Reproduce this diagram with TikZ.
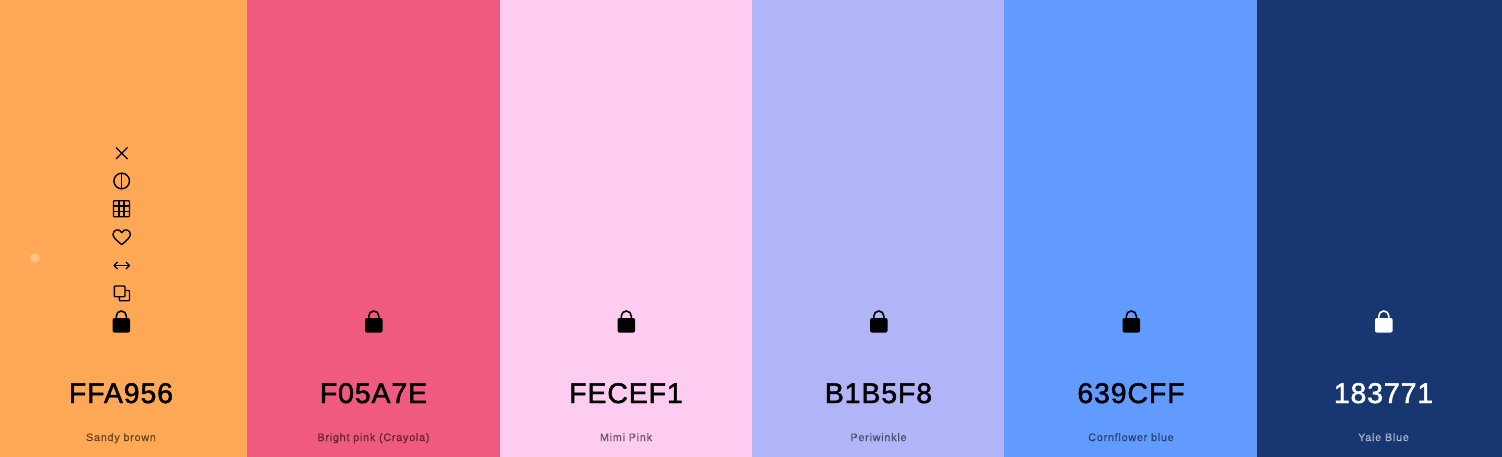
\documentclass[tikz,border=0pt]{standalone}
\usepackage{fontspec}
\setmainfont{Liberation Sans}
\newfontfamily\hexfont[LetterSpace=3,FakeBold=1.6]{Liberation Sans}
\newfontfamily\namefont[LetterSpace=7,FakeBold=0.8]{Liberation Sans}
\usetikzlibrary{positioning}

\definecolor{sandy}{HTML}{FFA956}
\definecolor{bright}{HTML}{F05A7E}
\definecolor{mimi}{HTML}{FDCCF0}
\definecolor{peri}{HTML}{B1B5F8}
\definecolor{corn}{HTML}{619BFF}
\definecolor{yale}{HTML}{183771}

\tikzset{
	hexlabel/.style={font=\hexfont\fontsize{28.5}{30}\selectfont, inner sep=0pt, anchor=base},
	namelabel/.style={font=\namefont\fontsize{10.8}{12}\selectfont, inner sep=0pt, anchor=base},
	iconline/.style={draw=black, line width=1.4pt},
	pics/lock/.style={code={
		\fill[#1, rounded corners=2pt] (-8.8,-4) rectangle (8.8,10.6);
		\draw[#1, line width=1.6pt] (-5,-3.5) -- (-5,-6) arc[start angle=180, end angle=360, radius=5] -- (5,-3.5);
	}}
}

\begin{document}
\begin{tikzpicture}[x=1pt, y=-1pt]
	\useasboundingbox (0,0) rectangle (1502,457);

	%% The stripes, left edge / right edge / colour
	\foreach [count=\n] \a/\b/\c in {0/247/sandy, 247/499.5/bright, 499.5/752/mimi, 752/1004/peri, 1004/1257/corn, 1257/1502/yale}{%
		\fill[\c] (\a,0) rectangle (\b,457);
	}

	%% Iterate through the black texts and locks
	\foreach [count=\n] \x/\h/\t in {121/FFA956/Sandy brown, 373.5/F05A7E/Bright pink (Crayola), 626/FECEF1/Mimi Pink, 878.5/B1B5F8/Periwinkle, 1131/639CFF/Cornflower blue}{%
		\pic at (\x+.3,322) {lock=black};
		\node[hexlabel, text=black] at (\x,403) (hex-\n) {\h};
		\node[namelabel, text=black, text opacity=.5] at (\x,441) (name-\n) {\t};
	}

	%% The white column
	\pic at (1383.8,322) {lock=white};
	\node[hexlabel, text=white] at (1383.5,403) (hex-6) {183771};
	\node[namelabel, text=white, text opacity=.55] at (1383.5,441) (name-6) {Yale Blue};

	%% The small dot
	\fill[white, opacity=.3] (34.5,258) circle (4.8);

	%% Tools above the first lock
	\begin{scope}[iconline]
		%% cross
		\draw (116,147.5) -- (127.5,159) (127.5,147.5) -- (116,159);
		%% split circle
		\draw (121.7,181) circle (7.8);
		\draw (121.7,173.2) -- (121.7,188.8);
		%% grid
		\draw[rounded corners=.8pt] (113.5,200.8) rectangle (129.5,216.8);
		\foreach \n in {1,2}{%
			\draw (113.5+\n*16/3,200.8) -- (113.5+\n*16/3,216.8);
			\draw (113.5,200.8+\n*16/3) -- (129.5,200.8+\n*16/3);
		}
		%% heart
		\draw[line join=round] (121.7,244.6) .. controls (116,240) and (113,237) .. (113,234.5) .. controls (113,229.5) and (119.5,228) .. (121.7,232.6) .. controls (124,228) and (130.4,229.5) .. (130.4,234.5) .. controls (130.4,237) and (127.4,240) .. (121.7,244.6) -- cycle;
		%% double arrow
		\draw (114,265.5) -- (129.5,265.5);
		\draw[line join=round] (117.5,262) -- (114,265.5) -- (117.5,269);
		\draw[line join=round] (126,262) -- (129.5,265.5) -- (126,269);
		%% overlapping squares
		\draw[rounded corners=.8pt] (114.3,286) rectangle (125,296.7);
		\draw[rounded corners=.8pt] (125,290.5) -- (129.5,290.5) -- (129.5,300.7) -- (119.3,300.7) -- (119.3,296.7);
	\end{scope}

\end{tikzpicture}
\end{document}
